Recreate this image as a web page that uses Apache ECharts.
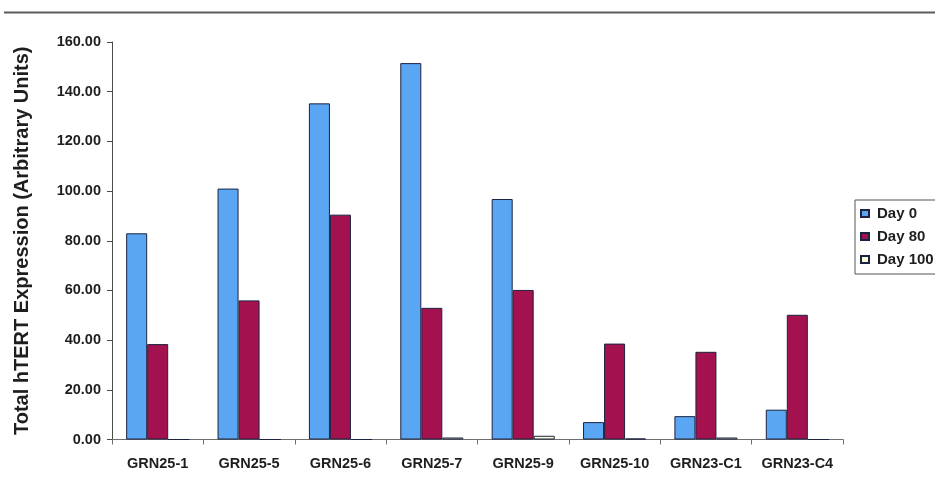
<!DOCTYPE html>
<html>
<head>
<meta charset="utf-8">
<script src="https://cdn.jsdelivr.net/npm/echarts@6/dist/echarts.min.js"></script>
<style>
  html, body { margin: 0; padding: 0; background: #ffffff; }
  #chart { width: 935px; height: 487px; }
</style>
</head>
<body>
<div id="chart"></div>
<script>
// Cell lines on the x axis
const cellLines = ['GRN25-1', 'GRN25-5', 'GRN25-6', 'GRN25-7', 'GRN25-9', 'GRN25-10', 'GRN23-C1', 'GRN23-C4'];

// Total hTERT expression per time point
const day0   = [83.0, 101.0, 135.3, 151.5, 96.8, 7.0, 9.4, 12.0];
const day80  = [38.4, 56.0, 90.5, 53.0, 60.2, 38.6, 35.3, 50.2];
const day100 = [0.0, 0.0, 0.0, 0.8, 1.5, 0.4, 0.8, 0.0];

const seriesNames = ['Day 0', 'Day 80', 'Day 100'];
const yTicks = { min: 0, max: 160, step: 20 };

const font = '"Liberation Sans", Arial, sans-serif';
const textColor = '#1e1e1e';
const barBorder = '#1c2340';

function barSeries(name, data, color) {
  return {
    name: name,
    type: 'bar',
    data: data,
    barGap: '0%',
    barCategoryGap: '31%',
    itemStyle: { color: color, borderColor: barBorder, borderWidth: 1 }
  };
}

const chart = echarts.init(document.getElementById('chart'), null, { renderer: 'canvas' });

chart.setOption({
  animation: false,
  backgroundColor: '#ffffff',
  textStyle: { fontFamily: font },
  grid: { left: 112, right: 92, top: 42, bottom: 47.5, containLabel: false },
  graphic: [
    {
      type: 'line',
      shape: { x1: 4, y1: 12.5, x2: 935, y2: 12.5 },
      style: { stroke: '#5a5a5a', lineWidth: 2 }
    }
  ],
  legend: {
    orient: 'vertical',
    left: 855,
    top: 200,
    padding: [6, 30, 7, 5],
    itemGap: 8,
    itemWidth: 8,
    itemHeight: 7,
    borderColor: '#555555',
    borderWidth: 1,
    data: seriesNames.map(n => ({ name: n, icon: 'rect' })),
    textStyle: { fontFamily: font, fontWeight: 'bold', fontSize: 15, color: textColor, padding: [0, 0, 0, 3] }
  },
  xAxis: {
    type: 'category',
    data: cellLines,
    axisLine: { lineStyle: { color: '#6e6e6e', width: 1 } },
    axisTick: { show: true, length: 5, lineStyle: { color: '#6e6e6e' } },
    axisLabel: {
      interval: 0, hideOverlap: false,
      fontFamily: font, fontWeight: 'bold', fontSize: 14.5, color: textColor, margin: 17
    }
  },
  yAxis: {
    type: 'value',
    min: yTicks.min,
    max: yTicks.max,
    interval: yTicks.step,
    name: 'Total hTERT Expression (Arbitrary Units)',
    nameLocation: 'middle',
    nameGap: 80,
    nameTextStyle: { fontFamily: font, fontWeight: 'bold', fontSize: 20, color: textColor },
    axisLine: { show: true, lineStyle: { color: '#4a4a4a', width: 1 } },
    axisTick: { show: true, length: 5, lineStyle: { color: '#4a4a4a' } },
    splitLine: { show: false },
    axisLabel: {
      fontFamily: font, fontWeight: 'bold', fontSize: 14.5, color: textColor, margin: 11,
      formatter: v => v.toFixed(2)
    }
  },
  series: [
    barSeries(seriesNames[0], day0, '#5aa6f2'),
    barSeries(seriesNames[1], day80, '#a3124f'),
    barSeries(seriesNames[2], day100, '#fbfbd8')
  ]
});
</script>
</body>
</html>
